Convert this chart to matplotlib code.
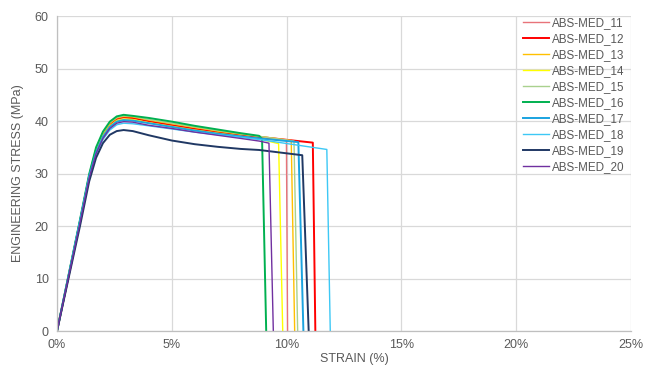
import matplotlib
matplotlib.use("Agg")
import matplotlib.pyplot as plt

plt.rcParams['font.family'] = ['Liberation Sans', 'DejaVu Sans']

# tensile test curves: strain in %, stress in MPa
labels = ['ABS-MED_11', 'ABS-MED_12', 'ABS-MED_13', 'ABS-MED_14', 'ABS-MED_15',
          'ABS-MED_16', 'ABS-MED_17', 'ABS-MED_18', 'ABS-MED_19', 'ABS-MED_20']
colors = ['#E8737A', '#FF0000', '#FFC000', '#FFFF00', '#A9D18E',
          '#00B050', '#1AA3E0', '#3DC8F5', '#203864', '#7030A0']
widths = [1.0, 1.4, 1.0, 1.0, 1.0, 1.4, 1.4, 1.0, 1.4, 1.0]

strain_knots = [0, 0.5, 1.0, 1.4, 1.7, 2.0, 2.3, 2.6, 2.9, 3.3,
                4.0, 5.0, 6.0, 7.0, 8.0, 8.8]

stress_11 = [0, 10.5, 21.0, 29.6, 34.4, 37.4, 39.3, 40.3, 40.6, 40.5,
             40.0, 39.3, 38.6, 38.0, 37.4, 36.9]
stress_12 = [0, 10.4, 20.8, 29.4, 34.5, 37.6, 39.5, 40.5, 40.8, 40.6,
             40.0, 39.2, 38.5, 37.9, 37.4, 37.0]
stress_13 = [0, 10.5, 21.0, 29.7, 34.7, 37.7, 39.6, 40.6, 40.9, 40.8,
             40.2, 39.5, 38.8, 38.1, 37.5, 37.1]
stress_14 = [0, 10.5, 20.9, 29.5, 34.2, 37.2, 39.1, 40.1, 40.4, 40.3,
             39.7, 39.0, 38.3, 37.7, 37.1, 36.6]
stress_15 = [0, 10.6, 21.1, 29.8, 34.8, 37.8, 39.7, 40.7, 41.0, 40.9,
             40.3, 39.6, 38.9, 38.2, 37.6, 37.1]
stress_16 = [0, 10.6, 21.2, 29.9, 35.0, 38.0, 39.9, 40.9, 41.2, 41.0,
             40.6, 39.9, 39.1, 38.4, 37.7, 37.2]
stress_17 = [0, 10.5, 21.0, 29.5, 34.0, 37.0, 38.9, 39.9, 40.2, 40.1,
             39.6, 38.9, 38.2, 37.6, 37.1, 36.7]
stress_18 = [0, 10.4, 20.8, 29.3, 33.6, 36.5, 38.3, 39.3, 39.6, 39.5,
             39.1, 38.5, 37.9, 37.4, 36.9, 36.5]
stress_19 = [0, 10.0, 20.0, 28.5, 33.0, 35.8, 37.4, 38.1, 38.3, 38.1,
             37.3, 36.3, 35.6, 35.1, 34.7, 34.5]
stress_20 = [0, 10.3, 20.6, 29.2, 33.8, 36.7, 38.6, 39.6, 39.9, 39.8,
             39.2, 38.6, 37.9, 37.3, 36.7, 36.2]

# last point before break, then the drop to zero
break_strain = [9.99, 11.14, 10.20, 9.65, 10.32, 8.93, 10.51, 11.75, 10.68, 9.23]
break_stress = [36.3, 35.9, 36.3, 35.7, 36.2, 36.6, 36.0, 34.6, 33.5, 35.8]
zero_strain = [10.04, 11.25, 10.35, 9.83, 10.48, 9.11, 10.73, 11.90, 10.96, 9.42]

stresses = [stress_11, stress_12, stress_13, stress_14, stress_15,
            stress_16, stress_17, stress_18, stress_19, stress_20]

x_ticks = [0, 5, 10, 15, 20, 25]
y_ticks = [0, 10, 20, 30, 40, 50, 60]

fig = plt.figure(figsize=(6.45, 3.67), dpi=100)
ax = fig.add_axes([0.0884, 0.098, 0.89, 0.858])

for i in range(len(labels)):
    xs = list(strain_knots) + [break_strain[i], zero_strain[i]]
    ys = list(stresses[i]) + [break_stress[i], 0]
    ax.plot(xs, ys, color=colors[i], lw=widths[i], label=labels[i],
            solid_joinstyle='round')

ax.set_xlim(0, 25)
ax.set_ylim(0, 60)
ax.set_xticks(x_ticks)
ax.set_xticklabels([f'{t}%' for t in x_ticks])
ax.set_yticks(y_ticks)
ax.grid(True, color='#D9D9D9', lw=0.9)
ax.set_axisbelow(True)
for s in ['top', 'right']:
    ax.spines[s].set_visible(False)
for s in ['left', 'bottom']:
    ax.spines[s].set_color('#BFBFBF')
    ax.spines[s].set_linewidth(0.9)
ax.tick_params(length=0, labelsize=9, colors='#595959', pad=6)

fig.text(354 / 645, 1 - 359 / 367, 'STRAIN (%)', ha='center', va='center',
         fontsize=9, color='#595959')
fig.text(18 / 645, 1 - 173 / 367, 'ENGINEERING STRESS (MPa)', ha='center',
         va='center', rotation=90, fontsize=9, color='#595959')

fig.legend(loc='upper left', bbox_to_anchor=(523 / 645, 1 - 17 / 367),
           frameon=False, fontsize=8.4, labelcolor='#595959',
           handlelength=2.2, handletextpad=0.25, labelspacing=0.34,
           borderaxespad=0, borderpad=0)

fig.savefig('out.png', dpi=100)
